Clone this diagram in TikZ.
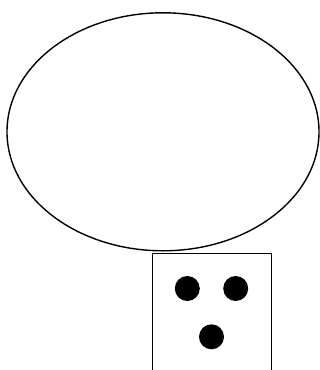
\documentclass[tikz,border=0pt]{standalone}
\usetikzlibrary{shapes.geometric}
\begin{document}
\begin{tikzpicture}[x=1pt,y=-1pt,
  outline/.style={draw=black,line width=1.4pt,inner sep=0pt},
  dot/.style={circle,fill=black,minimum size=25pt,inner sep=0pt}]
\useasboundingbox (0,0) rectangle (320,370);
\clip (0,0) rectangle (320,370);
\node[outline,ellipse,minimum width=312pt,minimum height=238pt] (head) at (163,131.8) {};
\node[outline,rectangle,minimum width=119pt,minimum height=140pt,anchor=north west] (box) at (152,253) {};
\node[dot] (d1) at (187.3,288.5) {};
\node[dot] (d2) at (235.7,288.5) {};
\node[dot] (d3) at (211.5,336.8) {};
\end{tikzpicture}
\end{document}
